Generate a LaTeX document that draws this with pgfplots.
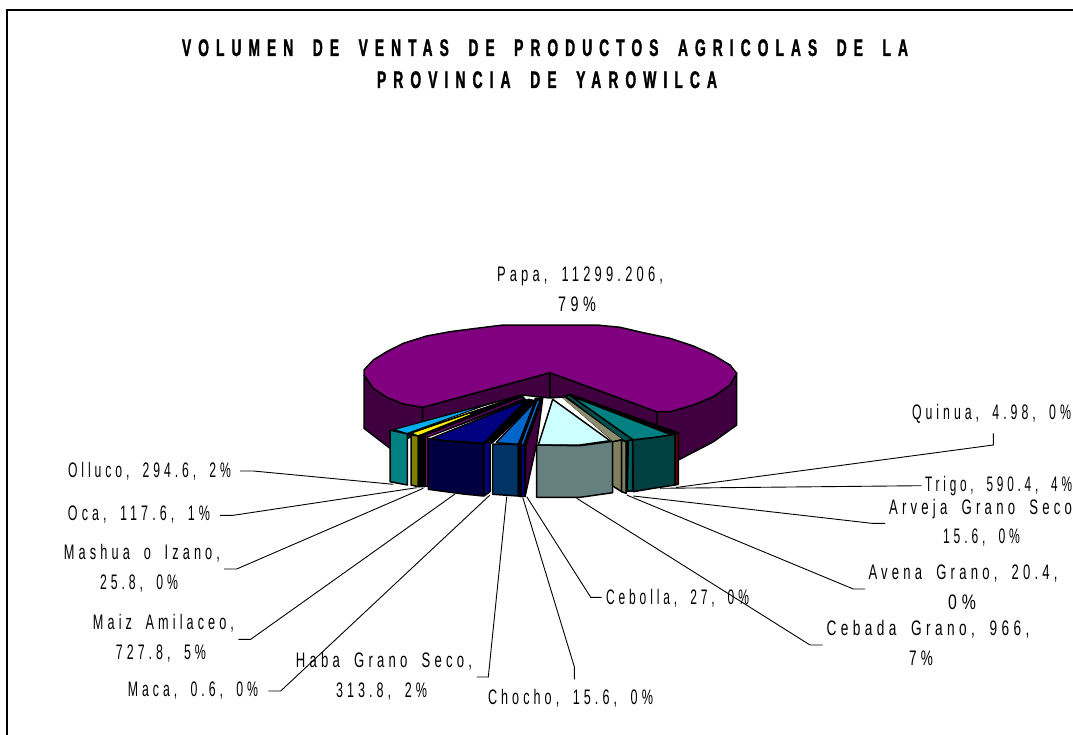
\documentclass[border=0pt]{standalone}
\usepackage{fontspec}
\usepackage{graphicx}
\usepackage{pgfplots}
\pgfplotsset{compat=1.18}
\newfontfamily\lf[FakeStretch=0.62,LetterSpace=20,WordSpace=1.8]{Liberation Sans}
\newfontfamily\tf[FakeStretch=0.55,LetterSpace=28,WordSpace=1.8,FakeBold=1.2]{Liberation Sans Bold}
\definecolor{pTop}{HTML}{800080}
\definecolor{pSide}{HTML}{400040}
\newcommand{\lab}[4]{\node[anchor=base,inner sep=0pt,text=black] at (axis cs:#1,#2) {\resizebox{#3pt}{\height}{\fontsize{21}{24}\lf #4}};}
\newcommand{\ttl}[4]{\node[anchor=base,inner sep=0pt] at (axis cs:#1,#2) {\resizebox{#3pt}{\height}{\fontsize{24}{26}\tf #4}};}
\begin{document}
\begin{tikzpicture}
\useasboundingbox (0,0) rectangle (1073pt,735pt);
\begin{axis}[at={(0,0)},anchor=south west,width=1073pt,height=735pt,scale only axis,hide axis,
  xmin=0,xmax=1073,ymin=0,ymax=735,y dir=reverse,no markers,clip=true,
  poly/.style={draw=black,line width=1.5pt,line join=round},
  lead/.style={draw=black,line width=0.9pt}]
% frame
\addplot[draw=black,line width=2pt] coordinates {(7,735)(7,10)(1073,10)};
% Papa side walls
\addplot[poly,fill=pSide] coordinates {(364,375)(373.3,388.3)(386.7,397.3)(403.3,404)(422.7,407.3)(422.7,430)(390,448.3)(364,428.3)(364,375)};
\addplot[poly,fill=pSide] coordinates {(656.7,411.7)(670,411.7)(693.3,405)(713.3,396.7)(730,385)(736.7,373.3)(736.7,425)(713,442)(678.3,460)(678.3,433)(656.7,433.3)(656.7,411.7)};
\addplot[poly,fill=pSide] coordinates {(422.7,407.3)(550,372.7)(656.7,411.7)(656.7,433)(563,397)(550,398)(522,395)(422.7,422)(422.7,407.3)};
\addplot[draw=black,line width=1.5pt] coordinates {(550,372.7)(550,398)};
% Papa top
\addplot[poly,fill=pTop] coordinates {(364,375)(373.3,388.3)(386.7,397.3)(403.3,404)(422.7,407.3)(550,372.7)(656.7,411.7)(670,411.7)(693.3,405)(713.3,396.7)(730,385)(736.7,373.3)(730,365)(713.3,355)(693.3,346)(670,338.3)(643.3,332.7)(620,327.3)(596.7,325)(503.3,325)(476.7,328.3)(450,331.7)(426.7,336)(403.3,343.3)(386.7,351.7)(373.3,360)(364,370)(364,375)};
% leader lines
\addplot[lead] coordinates {(240,471)(253.3,471)(393.3,484.3)};
\addplot[lead] coordinates {(220,515.3)(233.3,515.3)(416.7,487.7)};
\addplot[lead] coordinates {(224,569)(236.7,569)(423.3,488.3)};
\addplot[lead] coordinates {(238.3,639.3)(250.7,639.3)(455,494)};
\addplot[lead] coordinates {(268.3,691)(280.7,691)(490,495)};
\addplot[lead] coordinates {(476.7,677)(488.3,677)(506.7,496.7)};
\addplot[lead] coordinates {(574.3,679.3)(574.3,666.7)(522.7,497.3)};
\addplot[lead] coordinates {(601.7,597.3)(590.7,597.3)(526.7,496.7)};
\addplot[lead] coordinates {(822.7,645)(810,645)(576.7,498.3)};
\addplot[lead] coordinates {(865,589)(853.3,589)(626.7,495)};
\addplot[lead] coordinates {(885,523.3)(871.7,523.3)(633.3,496)};
\addplot[lead] coordinates {(921.7,485.7)(660,488.3)};
\addplot[lead] coordinates {(993.3,433.3)(993.3,445)(676,487.5)};
% black band behind Olluco, Oca and Mashua tops
\addplot[fill=black,draw=black,line width=1pt] coordinates {(406,434)(521.7,395)(526,400)(428,437)(406,434)};
% Olluco
\addplot[draw=black,line width=1pt,fill=cyan] coordinates {(394,429.5)(490,403.5)(407,433.5)(394,429.5)};
\addplot[poly,fill={rgb,255:red,0;green,128;blue,128}] coordinates {(390,430)(407.3,434)(407.3,485)(390,481.7)(390,430)};
% Oca
\addplot[fill=yellow,draw=yellow,line width=0.6pt] coordinates {(414,433.3)(470,414)(418.3,434.7)(414,433.3)};
\addplot[poly,fill={rgb,255:red,128;green,128;blue,0}] coordinates {(411,435)(418.3,436)(418.3,486.7)(411,485)(411,435)};
\addplot[poly,fill=black] coordinates {(418.3,436)(425,434)(425,486.7)(418.3,486.7)(418.3,436)};
% Mashua
\addplot[fill=pTop,draw=pTop,line width=0.8pt] coordinates {(425,436.7)(521.7,398.3)(427.3,436)(425,436.7)};
\addplot[fill=pTop,draw=black,line width=0.8pt] coordinates {(425,436)(427.3,436)(427.3,486.7)(425,486.7)(425,436)};
% Maiz
\addplot[poly,fill=black] coordinates {(484,443.3)(528.3,399.3)(536,401)(492,443)(484,443.3)};
\addplot[poly,fill={rgb,255:red,0;green,0;blue,128}] coordinates {(431.7,438.3)(526.7,400)(483.3,443.3)(463.3,441.7)(443.3,440.7)(431.7,438.3)};
\addplot[poly,fill={rgb,255:red,0;green,0;blue,128}] coordinates {(484,443.3)(490,441.7)(490,491.7)(484,496)(484,443.3)};
\addplot[poly,fill={rgb,255:red,0;green,0;blue,64}] coordinates {(428.3,438.3)(443.3,440.7)(463.3,442.3)(483.3,444)(483.3,496)(463.3,494)(453.3,492.7)(428.3,489.3)(428.3,438.3)};
% Chocho / Cebolla wedge
\addplot[fill=black,draw=black] coordinates {(518,445)(535,398)(543,397)(526,445)(518,445)};
\addplot[poly,fill=pSide] coordinates {(526,445)(542.7,398.3)(536.7,443.3)(525,496.7)(526,445)};
\addplot[fill={rgb,255:red,0;green,102;blue,204},draw=none] coordinates {(521.5,444)(537.5,401)(539,401)(523,444)(521.5,444)};
% Haba
\addplot[poly,fill={rgb,255:red,0;green,102;blue,204}] coordinates {(496,442.7)(535,401.7)(518.3,444.3)(496,442.7)};
\addplot[poly,fill={rgb,255:red,0;green,51;blue,102}] coordinates {(492.7,444)(518.3,444.7)(518.3,496)(492.7,494.3)(492.7,444)};
\addplot[poly,fill=black] coordinates {(518.3,444.7)(521,445)(521,496.7)(518.3,496)(518.3,444.7)};
\addplot[poly,fill={rgb,255:red,0;green,0;blue,128}] coordinates {(521,445)(525,445)(525,496.7)(521,496.7)(521,445)};
% black band behind Avena, Arveja and Trigo tops
\addplot[fill=black,draw=black,line width=1pt] coordinates {(562,397)(570,394)(678,432.5)(633,441)(613,441)(562,397)};
% Cebada
\addplot[poly,fill={rgb,255:red,204;green,255;blue,255}] coordinates {(552.7,399.3)(610,440.7)(580,445)(538.3,445)(552.7,399.3)};
\addplot[poly,fill={rgb,255:red,102;green,128;blue,128}] coordinates {(536.7,445)(580,445.7)(610,441.7)(612.7,440.7)(612.7,492.7)(580,497.3)(536.7,497.3)(536.7,445)};
% Avena / Arveja
\addplot[fill={rgb,255:red,140;green,140;blue,110},draw=none] coordinates {(562.7,398.3)(564.5,397.5)(621.7,439)(613,441)(562.7,398.3)};
\addplot[poly,fill={rgb,255:red,128;green,128;blue,96}] coordinates {(612.7,441.7)(621.7,440)(621.7,491.7)(612.7,486)(612.7,441.7)};
\addplot[poly,fill={rgb,255:red,128;green,128;blue,96}] coordinates {(621.7,440)(626,441.7)(626,493.3)(621.7,491.7)(621.7,440)};
\addplot[fill=black,draw=black] coordinates {(626,441)(628,441)(628,491)(626,493)(626,441)};
\addplot[fill={rgb,255:red,0;green,80;blue,80},draw=none] coordinates {(567,396.5)(569.5,396)(632,440)(624,440)(567,396.5)};
\addplot[poly,fill={rgb,255:red,0;green,96;blue,96}] coordinates {(628.3,440)(632.7,440)(632.7,491)(627.3,491)(628.3,440)};
% Trigo
\addplot[poly,fill={rgb,255:red,0;green,128;blue,128}] coordinates {(571,396)(671.7,435)(653.3,437.7)(633.3,440)(571,396)};
\addplot[poly,fill={rgb,255:red,0;green,64;blue,64}] coordinates {(632.7,440)(653.3,437.7)(671.7,435)(675,433.3)(675,485)(653.3,488.3)(633.3,491.7)(632.7,440)};
% Quinua
\addplot[poly,fill={rgb,255:red,100;green,0;blue,0}] coordinates {(675,433.3)(678.3,432.7)(678.3,484.3)(675,485)(675,433.3)};
% texts
\ttl{545}{56}{726}{VOLUMEN DE VENTAS DE PRODUCTOS AGRICOLAS DE LA}
\ttl{547}{88}{340}{PROVINCIA DE YAROWILCA}
\lab{580}{281}{166}{Papa, 11299.206,}
\lab{577}{311}{38}{79\%}
\lab{991.5}{419}{159}{Quinua, 4.98, 0\%}
\lab{998.5}{491}{147}{Trigo, 590.4, 4\%}
\lab{980.5}{514}{183}{Arveja Grano Seco}
\lab{981.5}{543}{77}{15.6, 0\%}
\lab{963}{579}{189}{Avena Grano, 20.4,}
\lab{962}{609}{28}{0\%}
\lab{928}{635}{203}{Cebada Grano, 966,}
\lab{921}{665}{24}{7\%}
\lab{677.5}{604}{143}{Cebolla, 27, 0\%}
\lab{570.5}{704}{165}{Chocho, 15.6, 0\%}
\lab{384}{667}{176}{Haba Grano Seco,}
\lab{381.5}{697}{91}{313.8, 2\%}
\lab{193}{696}{130}{Maca, 0.6, 0\%}
\lab{163.5}{629}{141}{Maiz Amilaceo,}
\lab{161}{659}{90}{727.8, 5\%}
\lab{142}{559}{156}{Mashua o Izano,}
\lab{139}{589}{78}{25.8, 0\%}
\lab{139}{520}{142}{Oca, 117.6, 1\%}
\lab{149.5}{477}{163}{Olluco, 294.6, 2\%}
\end{axis}
\end{tikzpicture}
\end{document}
